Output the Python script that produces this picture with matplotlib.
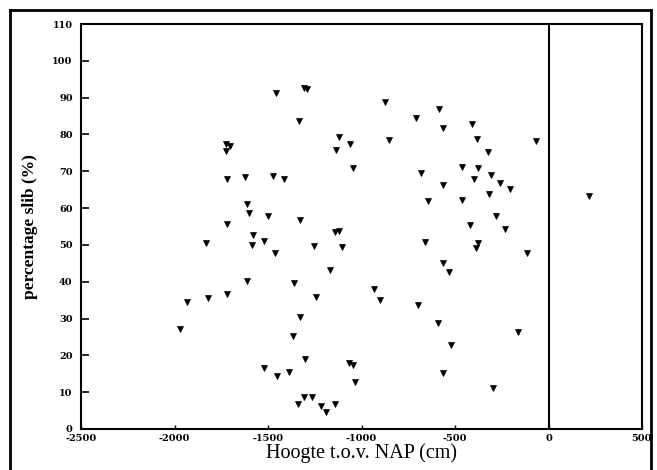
import matplotlib
matplotlib.use("Agg")
import matplotlib.pyplot as plt
from matplotlib.lines import Line2D

# Hoogte t.o.v. NAP (cm)
hoogte = [
    -1457, -1308, -1293, -1334, -1725, -1703, -1725, -1721, -1621, -1475,
    -1413, -1611, -1600, -1502, -1327, -1718, -1579, -1584, -1520, -1833,
    -1463,
    -876, -584, -710, -563, -1119, -1062, -1136, -851, -1044, -683,
    -563, -646, -1142, -1119, -1254, -1103, -660,
    -411, -384, -65, -324, -464, -375, -398, -307, -261, -206,
    -317, -464, 218, -281, -420, -234, -375, -389, -117,
    -1611, -1361, -1721, -1821, -1932, -1971, -1327, -1365, -1301, -1520,
    -1454, -1389, -1338, -1309,
    -1168, -1243, -933, -901, -700, -566, -532, -589, -521, -566,
    -1068, -1047, -1035, -1265, -1217, -1190, -1140,
    -161, -295,
]
# percentage slib (%)
slib = [
    91.2, 92.6, 92.4, 83.6, 77.4, 76.9, 75.5, 67.8, 68.4, 68.7,
    67.8, 61.1, 58.8, 57.8, 56.9, 55.8, 52.6, 49.9, 51.1, 50.6,
    47.7,
    88.9, 87.0, 84.5, 81.7, 79.2, 77.3, 75.8, 78.5, 71.0, 69.6,
    66.4, 61.8, 53.4, 53.9, 49.8, 49.3, 50.7,
    82.8, 78.7, 78.1, 75.3, 71.1, 71.0, 67.8, 69.1, 66.8, 65.1,
    63.7, 62.2, 63.3, 57.8, 55.5, 54.2, 50.6, 49.1, 47.9,
    40.2, 39.6, 36.6, 35.7, 34.4, 27.2, 30.3, 25.3, 19.1, 16.5,
    14.5, 15.6, 6.8, 8.7,
    43.1, 35.9, 37.9, 35.0, 33.7, 45.2, 42.6, 28.7, 22.8, 15.1,
    18.0, 17.4, 12.8, 8.7, 6.2, 4.7, 6.9,
    26.3, 11.1,
]
x_ticks = [-2500, -2000, -1500, -1000, -500, 0, 500]
y_ticks = [0, 10, 20, 30, 40, 50, 60, 70, 80, 90, 100, 110]

W, H = 657, 470
fig = plt.figure(figsize=(W / 100, H / 100), dpi=100)
ax = fig.add_axes([81 / W, 1 - 429 / H, (642 - 81) / W, (429 - 24) / H])

ax.plot(hoogte, slib, ls="none", marker="v", ms=4.6, color="black",
        markeredgewidth=0.5)
ax.axvline(0, color="black", lw=1.5)

ax.set_xlim(-2500, 500)
ax.set_ylim(0, 110)
ax.set_xticks(x_ticks)
ax.set_yticks(y_ticks)
ax.set_xticklabels([str(v) for v in x_ticks])
ax.set_yticklabels([str(v) for v in y_ticks])

for lab in ax.get_xticklabels() + ax.get_yticklabels():
    lab.set_fontfamily("DejaVu Serif")
    lab.set_fontweight("bold")
    lab.set_fontsize(7)

ax.tick_params(axis="y", direction="in", length=6, width=1.2, pad=6)
ax.tick_params(axis="x", direction="in", length=3, width=1.0, pad=3.5)
for sp in ax.spines.values():
    sp.set_linewidth(1.5)

ax.set_xlabel("Hoogte t.o.v. NAP (cm)", family="Liberation Serif",
              fontsize=14.5, labelpad=0)
ax.set_ylabel("percentage slib (%)", family="Liberation Serif",
              fontweight="bold", fontsize=12.5, labelpad=10)

# outer frame of the scanned figure
frame_kw = dict(color="black", lw=2, transform=fig.transFigure)
fig.add_artist(Line2D([10 / W, 651 / W], [1 - 10 / H, 1 - 10 / H], **frame_kw))
fig.add_artist(Line2D([10 / W, 10 / W], [1 - 10 / H, 0], **frame_kw))
fig.add_artist(Line2D([651 / W, 651 / W], [1 - 10 / H, 0], **frame_kw))

fig.savefig("out.png", dpi=100)
